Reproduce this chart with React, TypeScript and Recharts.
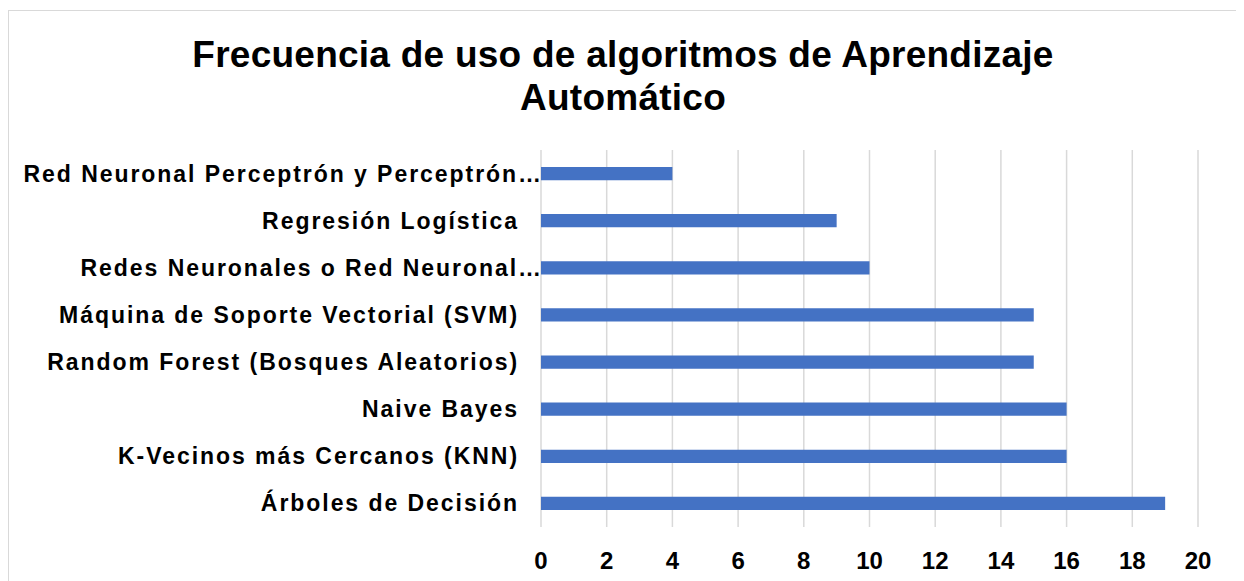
import React from 'react';
import { BarChart, Bar, XAxis, YAxis, CartesianGrid } from 'recharts';

const algoritmos = [
  'Red Neuronal Perceptrón y Perceptrón…',
  'Regresión Logística',
  'Redes Neuronales o Red Neuronal…',
  'Máquina de Soporte Vectorial (SVM)',
  'Random Forest (Bosques Aleatorios)',
  'Naive Bayes',
  'K-Vecinos más Cercanos (KNN)',
  'Árboles de Decisión',
];
const frecuencias = [4, 9, 10, 15, 15, 16, 16, 19];
const xTicks = [0, 2, 4, 6, 8, 10, 12, 14, 16, 18, 20];

const data = algoritmos.map((nombre, i) => ({ nombre, valor: frecuencias[i] }));

const FONT = '"Liberation Sans", Arial, sans-serif';

function CategoryTick(props: any) {
  const { x, y, payload } = props;
  const truncated = String(payload.value).endsWith('…');
  return (
    <text
      x={truncated ? x + 10 : x - 14}
      y={y}
      dy={8}
      textAnchor="end"
      fill="#000"
      fontFamily={FONT}
      fontWeight="bold"
      fontSize={23}
      letterSpacing={1.95}
    >
      {payload.value}
    </text>
  );
}

export default function App() {
  return (
    <div
      style={{
        position: 'relative',
        width: 1228,
        height: 590,
        border: '1px solid #d9d9d9',
        marginLeft: 0,
        marginTop: 2,
        background: '#fff',
        fontFamily: FONT,
      }}
    >
      <div
        style={{
          position: 'absolute',
          top: 22,
          left: 0,
          width: 1228,
          textAlign: 'center',
          fontWeight: 'bold',
          fontSize: 37,
          letterSpacing: 0.25,
          lineHeight: '43px',
          color: '#000',
        }}
      >
        Frecuencia de uso de algoritmos de Aprendizaje
        <br />
        Automático
      </div>
      <BarChart
        width={1228}
        height={590}
        data={data}
        layout="vertical"
        margin={{ top: 139, right: 39, bottom: 34, left: 0 }}
        barCategoryGap="64%"
      >
        <CartesianGrid horizontal={false} stroke="#d9d9d9" strokeWidth={1.5} />
        <XAxis
          type="number"
          domain={[0, 20]}
          ticks={xTicks}
          axisLine={false}
          tickLine={false}
          height={40}
          tick={{ fill: '#000', fontFamily: FONT, fontWeight: 'bold', fontSize: 24, dy: 17 }}
        />
        <YAxis
          type="category"
          dataKey="nombre"
          width={532}
          axisLine={false}
          tickLine={false}
          tick={<CategoryTick />}
        />
        <Bar dataKey="valor" fill="#4472c4" isAnimationActive={false} />
      </BarChart>
    </div>
  );
}
